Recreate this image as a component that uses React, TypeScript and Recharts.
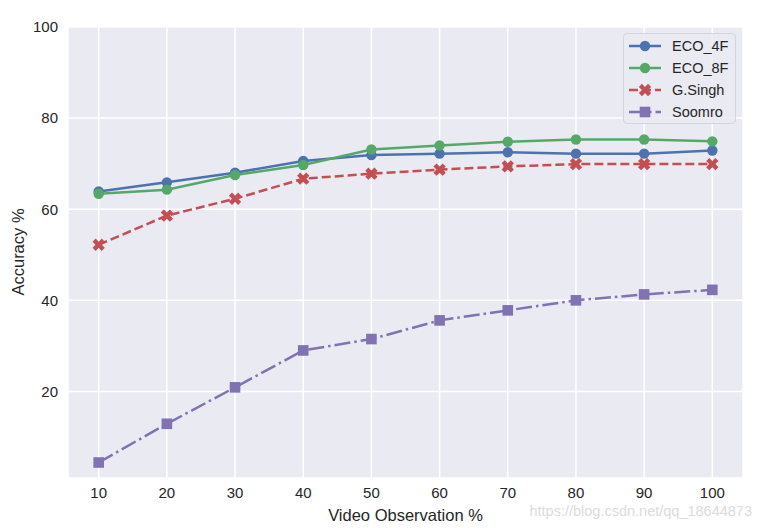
import React from "react";
import {
  LineChart,
  Line,
  XAxis,
  YAxis,
  CartesianGrid,
} from "recharts";

const OBSERVATION = [10, 20, 30, 40, 50, 60, 70, 80, 90, 100];
const ECO_4F = [63.9, 65.9, 68.0, 70.6, 71.9, 72.2, 72.5, 72.2, 72.2, 72.9];
const ECO_8F = [63.4, 64.3, 67.5, 69.7, 73.1, 74.0, 74.8, 75.3, 75.3, 74.9];
const G_SINGH = [52.2, 58.6, 62.3, 66.7, 67.8, 68.7, 69.4, 69.9, 69.9, 69.9];
const SOOMRO = [4.4, 12.9, 20.9, 29.0, 31.5, 35.6, 37.8, 40.0, 41.3, 42.3];

const X_TICKS = [10, 20, 30, 40, 50, 60, 70, 80, 90, 100];
const Y_TICKS = [20, 40, 60, 80, 100];

const FONT = '"Liberation Sans", Arial, sans-serif';
const TEXT = "#262626";

const data = OBSERVATION.map((x, i) => ({
  x,
  eco4: ECO_4F[i],
  eco8: ECO_8F[i],
  singh: G_SINGH[i],
  soomro: SOOMRO[i],
}));

const SERIES = [
  { key: "eco4", name: "ECO_4F", color: "#4C72B0", dash: undefined, marker: "circle" },
  { key: "eco8", name: "ECO_8F", color: "#55A868", dash: undefined, marker: "circle" },
  { key: "singh", name: "G.Singh", color: "#C44E52", dash: "9 4", marker: "x" },
  { key: "soomro", name: "Soomro", color: "#8172B2", dash: "16 4 2.5 4", marker: "square" },
];

function crossPath(cx: number, cy: number, a: number, t: number) {
  // plus shape rotated 45 degrees
  const pts = [
    [t, a], [-t, a], [-t, t], [-a, t], [-a, -t], [-t, -t],
    [-t, -a], [t, -a], [t, -t], [a, -t], [a, t], [t, t],
  ];
  const c = Math.SQRT1_2;
  return (
    pts
      .map(([px, py], i) => {
        const rx = (px - py) * c + cx;
        const ry = (px + py) * c + cy;
        return `${i === 0 ? "M" : "L"}${rx.toFixed(2)},${ry.toFixed(2)}`;
      })
      .join(" ") + " Z"
  );
}

function Marker({ type, cx, cy, color }: { type: string; cx: number; cy: number; color: string }) {
  if (type === "circle") return <circle cx={cx} cy={cy} r={5.2} fill={color} />;
  if (type === "square")
    return <rect x={cx - 5.3} y={cy - 5.3} width={10.6} height={10.6} fill={color} />;
  return <path d={crossPath(cx, cy, 6.5, 2.2)} fill={color} />;
}

function makeDot(type: string, color: string) {
  return (props: any) => {
    const { cx, cy, index } = props;
    if (cx == null || cy == null) return <g key={index} />;
    return <Marker key={index} type={type} cx={cx} cy={cy} color={color} />;
  };
}

function LegendBox() {
  return (
    <div
      style={{
        position: "absolute",
        left: 623,
        top: 33,
        width: 113,
        height: 91,
        boxSizing: "border-box",
        border: "1px solid #d4d4dc",
        borderRadius: 4,
        background: "rgba(234,234,242,0.85)",
        fontFamily: FONT,
        fontSize: 14.5,
        color: TEXT,
      }}
    >
      {SERIES.map((s, i) => (
        <div key={s.key} style={{ position: "absolute", left: 0, top: 1 + i * 22, height: 22, width: 113 }}>
          <svg width={40} height={22} style={{ position: "absolute", left: 4, top: 0 }}>
            <line
              x1={1}
              x2={33}
              y1={11}
              y2={11}
              stroke={s.color}
              strokeWidth={2.5}
              strokeDasharray={s.dash}
            />
            <Marker type={s.marker} cx={17} cy={11} color={s.color} />
          </svg>
          <span style={{ position: "absolute", left: 48, top: 2, lineHeight: "18px", whiteSpace: "nowrap" }}>
            {s.name}
          </span>
        </div>
      ))}
    </div>
  );
}

export default function App() {
  return (
    <div
      style={{
        position: "absolute",
        left: 0,
        top: 0,
        width: 763,
        height: 528,
        background: "#ffffff",
        fontFamily: FONT,
      }}
    >
      <LineChart
        width={763}
        height={528}
        data={data}
        margin={{ top: 27, right: 20, bottom: 20, left: 8 }}
      >
        <CartesianGrid fill="#EAEAF2" stroke="#ffffff" strokeWidth={1.5} />
        <XAxis
          dataKey="x"
          type="number"
          domain={[5.5, 104.5]}
          ticks={X_TICKS}
          allowDataOverflow
          height={30}
          axisLine={false}
          tickLine={false}
          tickSize={0}
          tickMargin={9}
          tick={{ fontSize: 15, fill: TEXT, fontFamily: FONT }}
        />
        <YAxis
          type="number"
          domain={[1, 100]}
          ticks={Y_TICKS}
          allowDataOverflow
          width={60}
          axisLine={false}
          tickLine={false}
          tickSize={0}
          tickMargin={10}
          tick={{ fontSize: 15, fill: TEXT, fontFamily: FONT }}
        />
        {SERIES.map((s) => (
          <Line
            key={s.key}
            dataKey={s.key}
            name={s.name}
            stroke={s.color}
            strokeWidth={2.5}
            strokeDasharray={s.dash}
            dot={makeDot(s.marker, s.color)}
            activeDot={false}
            isAnimationActive={false}
          />
        ))}
      </LineChart>
      <LegendBox />
      <div
        style={{
          position: "absolute",
          left: 405.5,
          top: 506,
          transform: "translateX(-50%)",
          fontSize: 16.5,
          color: TEXT,
          whiteSpace: "nowrap",
        }}
      >
        Video Observation %
      </div>
      <div
        style={{
          position: "absolute",
          left: 18,
          top: 252,
          transform: "translate(-50%, -50%) rotate(-90deg)",
          fontSize: 16.5,
          color: TEXT,
          whiteSpace: "nowrap",
        }}
      >
        Accuracy %
      </div>
      <div
        style={{
          position: "absolute",
          right: 11,
          top: 503,
          fontSize: 14.5,
          color: "#dcdcdc",
          whiteSpace: "nowrap",
        }}
      >
        https://blog.csdn.net/qq_18644873
      </div>
    </div>
  );
}
